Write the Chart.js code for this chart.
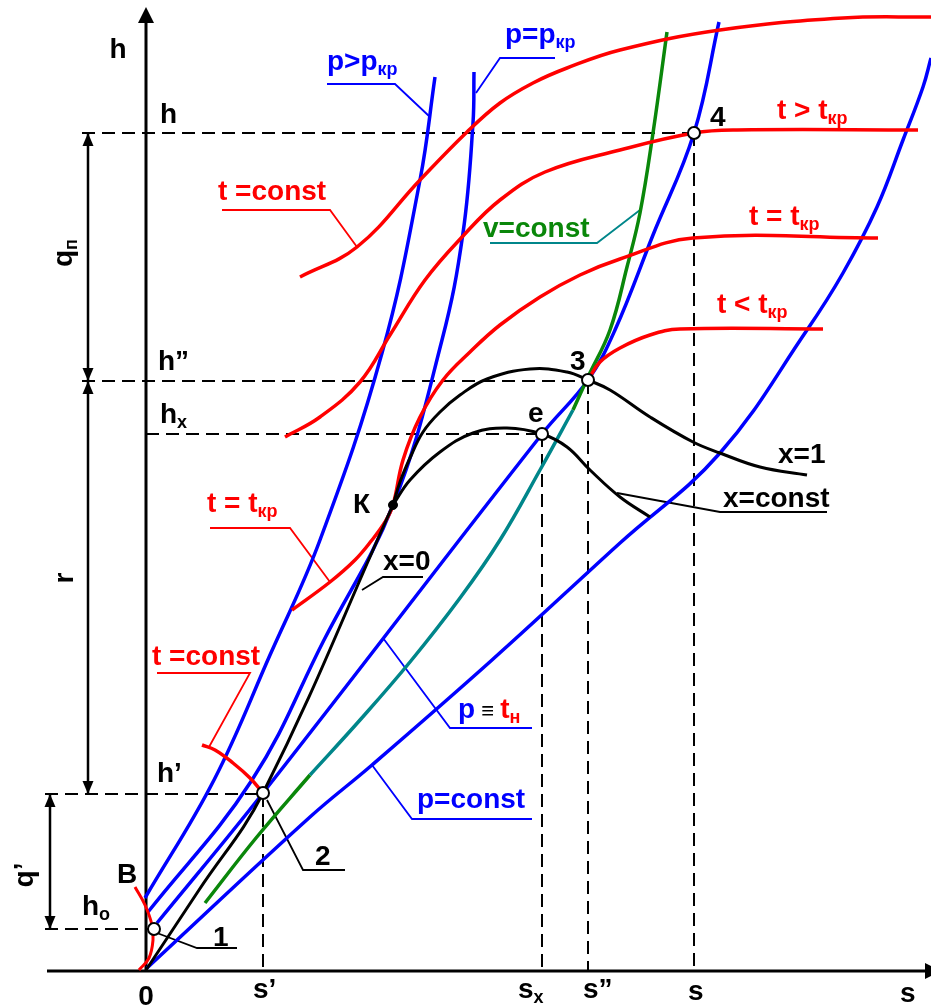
<!DOCTYPE html>
<html>
<head>
<meta charset="utf-8">
<script src="https://cdn.jsdelivr.net/npm/chart.js@4"></script>
<style>
  html, body { margin: 0; padding: 0; background: #fff; overflow: hidden; }
</style>
</head>
<body>
<canvas id="hs" width="931" height="1006"></canvas>
<script>
// координаты: s - энтропия, h - энтальпия (условные единицы, начало в точке 0)

// изобары
const pSuper = [[-1,73],[68,191],[124,316],[174,431],[236,618],[274,791],[289,894]];
const pCrit  = [[2,59],[106,191],[178,331],[247,466],[296,631],[317,738],[327,848],[328,899]];
const pSat   = [[11,48],[117,178],[396,537],[442,591],[469,641],[507,736],[548,838],[573,949]];
const pConst = [[1,3],[164,154],[226,206],[346,311],[474,428],[574,518],[661,641],[697,698],[731,764],[757,831],[777,884],[785,913]];

// пограничные кривые и x=const
const x0Line  = [[0,1],[53,81],[117,178],[247,466]];
const x1Line  = [[247,466],[254,489],[264,513],[277,539],[294,559],[314,576],[341,592],[384,602],[421,599],[442,591],[464,581],[504,554],[547,529],[574,518],[614,504],[661,496]];
const xConst  = [[247,466],[264,491],[294,519],[327,538],[361,543],[396,537],[421,524],[444,501],[474,474],[504,454]];

// изотермы
const tTop   = [[154,694],[211,724],[274,791],[321,839],[354,868],[387,888],[421,903],[474,921],[574,941],[697,953],[785,954]];
const tAbove = [[139,534],[174,554],[214,589],[244,636],[279,691],[317,735],[354,771],[399,799],[474,821],[548,838],[591,841],[772,841]];
const tCrit  = [[146,361],[184,389],[209,411],[226,431],[239,449],[247,466],[257,511],[274,554],[297,591],[324,619],[354,646],[394,674],[434,696],[474,712],[547,733],[732,733]];
const tBelow = [[442,591],[454,609],[474,623],[504,636],[534,642],[677,642]];
const tLiq   = [[56,226],[69,221],[87,208],[104,193],[117,178]];
const tB     = [[-11,84],[-1,66],[6,46],[7,31],[3,13],[-7,1]];

// изохора
const vLow  = [[59,68],[110,133],[164,196]];
const vMid  = [[164,196],[214,251],[264,309],[314,373],[354,431],[394,501],[427,561]];
const vHigh = [[427,561],[442,594],[464,641],[481,704],[494,758],[507,838],[521,939]];

// характерные точки
const openPts = [[8,42],[117,178],[396,537],[442,591],[548,838]];  // 1, 2, e, 3, 4
const critPt  = [[247,466]];                                        // К

// уровни h и s
const hLevels = [838, 590, 537, 177, 42];
const sLevels = [117, 396, 442, 548];

const blue = '#0000ff', red = '#ff0000', green = '#0a870a', teal = '#00868a', black = '#000000';

const pts = a => a.map(p => ({ x: p[0], y: p[1] }));

function line(data, color, width, extra) {
  return Object.assign({
    data: pts(data), showLine: true, borderColor: color, borderWidth: width,
    pointRadius: 0, tension: 0.4, fill: false, order: 3
  }, extra || {});
}
function straight(data, color, width, extra) {
  return line(data, color, width, Object.assign({ tension: 0 }, extra || {}));
}

const dash = [13, 7];
const datasets = [
  // точки
  { data: pts(openPts), pointRadius: 6, pointBackgroundColor: '#fff', pointBorderColor: black, pointBorderWidth: 2, showLine: false, order: 0 },
  { data: pts(critPt), pointRadius: 4.5, pointBackgroundColor: black, pointBorderColor: black, pointBorderWidth: 1, showLine: false, order: 0 },

  line(x0Line, black, 3, { order: 1 }),
  line(x1Line, black, 3, { order: 1 }),
  line(xConst, black, 3, { order: 1 }),

  line(tTop, red, 3.5, { order: 2 }),
  line(tAbove, red, 3.5, { order: 2 }),
  line(tCrit, red, 3.5, { order: 2 }),
  line(tBelow, red, 3.5, { order: 2 }),
  line(tLiq, red, 3.5, { order: 2 }),
  line(tB, red, 3, { order: 2 }),

  line(vLow, green, 3.5),
  line(vMid, teal, 3.5),
  line(vHigh, green, 3.5),

  line(pSuper, blue, 3.5, { order: 4 }),
  line(pCrit, blue, 3.5, { order: 4 }),
  line(pSat, blue, 3.5, { order: 4 }),
  line(pConst, blue, 3.5, { order: 4 }),

  // оси
  straight([[-99,0],[782,0]], black, 3, { order: 5 }),
  straight([[0,0],[0,950]], black, 3, { order: 5 }),

  // штриховые уровни
  straight([[-64,hLevels[0]],[sLevels[3],hLevels[0]]], black, 2, { borderDash: dash, order: 6 }),
  straight([[-64,hLevels[1]],[sLevels[2],hLevels[1]]], black, 2, { borderDash: dash, order: 6 }),
  straight([[0,hLevels[2]],[sLevels[1],hLevels[2]]], black, 2, { borderDash: dash, order: 6 }),
  straight([[-101,hLevels[3]],[sLevels[0],hLevels[3]]], black, 2, { borderDash: dash, order: 6 }),
  straight([[-101,hLevels[4]],[8,hLevels[4]]], black, 2, { borderDash: dash, order: 6 }),
  straight([[sLevels[0],hLevels[3]],[sLevels[0],0]], black, 2, { borderDash: dash, order: 6 }),
  straight([[sLevels[1],hLevels[2]],[sLevels[1],0]], black, 2, { borderDash: dash, order: 6 }),
  straight([[sLevels[2],hLevels[1]],[sLevels[2],0]], black, 2, { borderDash: dash, order: 6 }),
  straight([[sLevels[3],hLevels[0]],[sLevels[3],0]], black, 2, { borderDash: dash, order: 6 }),

  // размерные линии q, r
  straight([[-58,hLevels[0]],[-58,hLevels[3]]], black, 2.5, { order: 5 }),
  straight([[-96,hLevels[3]],[-96,hLevels[4]]], black, 2.5, { order: 5 }),

  // выноски
  straight([[284,854],[249,887],[181,887]], blue, 1.8, { order: 6 }),
  straight([[330,878],[354,913],[409,913]], blue, 1.8, { order: 6 }),
  straight([[211,724],[184,761],[76,761]], red, 1.8, { order: 6 }),
  straight([[494,761],[451,728],[344,728]], teal, 1.8, { order: 6 }),
  straight([[184,389],[144,443],[64,443]], red, 1.8, { order: 6 }),
  straight([[216,381],[237,394],[277,394]], black, 1.8, { order: 6 }),
  straight([[63,224],[104,298],[11,298]], red, 1.8, { order: 6 }),
  straight([[237,333],[304,243],[386,243]], blue, 1.8, { order: 6 }),
  straight([[226,206],[266,152],[386,152]], blue, 1.8, { order: 6 }),
  straight([[11,38],[51,23],[91,23]], black, 1.8, { order: 6 }),
  straight([[121,171],[157,101],[199,101]], black, 1.8, { order: 6 }),
  straight([[471,478],[574,459],[681,459]], black, 1.8, { order: 6 })
];

// подписи
const texts = [
  { s: -28, h: 913, al: 'center', parts: [{ t: 'h' }] },
  { s: 14, h: 848, parts: [{ t: 'h' }] },
  { s: 12, h: 601, parts: [{ t: 'h”' }] },
  { s: 14, h: 548, parts: [{ t: 'h' }, { t: 'x', sub: 1 }] },
  { s: 11, h: 189, parts: [{ t: 'h’' }] },
  { s: -64, h: 56, parts: [{ t: 'h' }, { t: 'o', sub: 1 }] },
  { s: -29, h: 88, parts: [{ t: 'B' }] },
  { s: 207, h: 458, parts: [{ t: 'К' }] },
  { s: 237, h: 401, parts: [{ t: 'x=0' }] },
  { s: 382, h: 549, parts: [{ t: 'e' }] },
  { s: 424, h: 601, parts: [{ t: '3' }] },
  { s: 564, h: 845, parts: [{ t: '4' }] },
  { s: 631, h: 852, c: red, parts: [{ t: 't > t' }, { t: 'кр', sub: 1 }] },
  { s: 603, h: 746, c: red, parts: [{ t: 't = t' }, { t: 'кр', sub: 1 }] },
  { s: 571, h: 658, c: red, parts: [{ t: 't < t' }, { t: 'кр', sub: 1 }] },
  { s: 632, h: 508, parts: [{ t: 'x=1' }] },
  { s: 577, h: 464, parts: [{ t: 'x=const' }] },
  { s: 337, h: 734, c: green, parts: [{ t: 'v=const' }] },
  { s: 181, h: 901, c: blue, parts: [{ t: 'p>p' }, { t: 'кр', sub: 1 }] },
  { s: 359, h: 928, c: blue, parts: [{ t: 'p=p' }, { t: 'кр', sub: 1 }] },
  { s: 72, h: 771, c: red, parts: [{ t: 't =const' }] },
  { s: 61, h: 459, c: red, parts: [{ t: 't = t' }, { t: 'кр', sub: 1 }] },
  { s: 6, h: 306, c: red, parts: [{ t: 't =const' }] },
  { s: 312, h: 253, parts: [{ t: 'p', c: blue }, { t: ' ≡ ', c: black, size: 22 }, { t: 't', c: red }, { t: 'н', c: red, sub: 1 }] },
  { s: 271, h: 163, c: blue, parts: [{ t: 'p=const' }] },
  { s: 67, h: 25, parts: [{ t: '1' }] },
  { s: 169, h: 106, parts: [{ t: '2' }] },
  { s: 0, h: -34, al: 'center', parts: [{ t: '0' }] },
  { s: 107, h: -27, parts: [{ t: 's’' }] },
  { s: 372, h: -27, parts: [{ t: 's' }, { t: 'x', sub: 1 }] },
  { s: 437, h: -27, parts: [{ t: 's”' }] },
  { s: 542, h: -29, parts: [{ t: 's' }] },
  { s: 754, h: -31, parts: [{ t: 's' }] },
  { s: -74, h: 718, al: 'center', rot: 1, parts: [{ t: 'q' }, { t: 'п', sub: 1 }] },
  { s: -73, h: 393, al: 'center', rot: 1, parts: [{ t: 'r' }] },
  { s: -113, h: 96, al: 'center', rot: 1, parts: [{ t: 'q’' }] }
];

const FAMILY = '"Liberation Sans", Arial, sans-serif';
function fontOf(p) {
  const size = p.size || (p.sub ? 18 : 28);
  return 'bold ' + size + 'px ' + FAMILY;
}
function richText(ctx, x, y, item) {
  let w = 0;
  item.parts.forEach(p => { ctx.font = fontOf(p); p.w = ctx.measureText(p.t).width; w += p.w; });
  let cx = item.al === 'center' ? x - w / 2 : x;
  item.parts.forEach(p => {
    ctx.font = fontOf(p);
    ctx.fillStyle = p.c || item.c || black;
    ctx.fillText(p.t, cx, y + (p.sub ? 5 : 0));
    cx += p.w;
  });
}
function arrowHead(ctx, x, y, dx, dy, len, half) {
  const n = Math.hypot(dx, dy); dx /= n; dy /= n;
  ctx.beginPath();
  ctx.moveTo(x, y);
  ctx.lineTo(x - dx * len - dy * half, y - dy * len + dx * half);
  ctx.lineTo(x - dx * len + dy * half, y - dy * len - dx * half);
  ctx.closePath();
  ctx.fill();
}

const decor = {
  id: 'decor',
  afterDatasetsDraw(chart) {
    const ctx = chart.ctx;
    const X = v => chart.scales.x.getPixelForValue(v);
    const Y = v => chart.scales.y.getPixelForValue(v);
    ctx.save();
    ctx.fillStyle = black;
    // стрелки осей
    arrowHead(ctx, X(0), Y(964), 0, -1, 16, 8);
    arrowHead(ctx, X(795), Y(0), 1, 0, 16, 8);
    // стрелки размерных линий
    const dims = [[-58, hLevels[0], hLevels[1]], [-58, hLevels[1], hLevels[3]], [-96, hLevels[3], hLevels[4]]];
    dims.forEach(d => {
      arrowHead(ctx, X(d[0]), Y(d[1]), 0, -1, 13, 5.5);
      arrowHead(ctx, X(d[0]), Y(d[2]), 0, 1, 13, 5.5);
    });
    // подписи
    ctx.textBaseline = 'alphabetic';
    texts.forEach(item => {
      if (item.rot) {
        ctx.save();
        ctx.translate(X(item.s), Y(item.h));
        ctx.rotate(-Math.PI / 2);
        richText(ctx, 0, 0, item);
        ctx.restore();
      } else {
        richText(ctx, X(item.s), Y(item.h), item);
      }
    });
    ctx.restore();
  }
};

new Chart(document.getElementById('hs').getContext('2d'), {
  type: 'scatter',
  data: { datasets: datasets },
  options: {
    responsive: false,
    animation: false,
    events: [],
    layout: { padding: 0, autoPadding: false },
    plugins: { legend: { display: false }, tooltip: { enabled: false } },
    scales: {
      x: { type: 'linear', min: -146, max: 785, display: false },
      y: { type: 'linear', min: -35, max: 971, display: false }
    }
  },
  plugins: [decor]
});
</script>
</body>
</html>
